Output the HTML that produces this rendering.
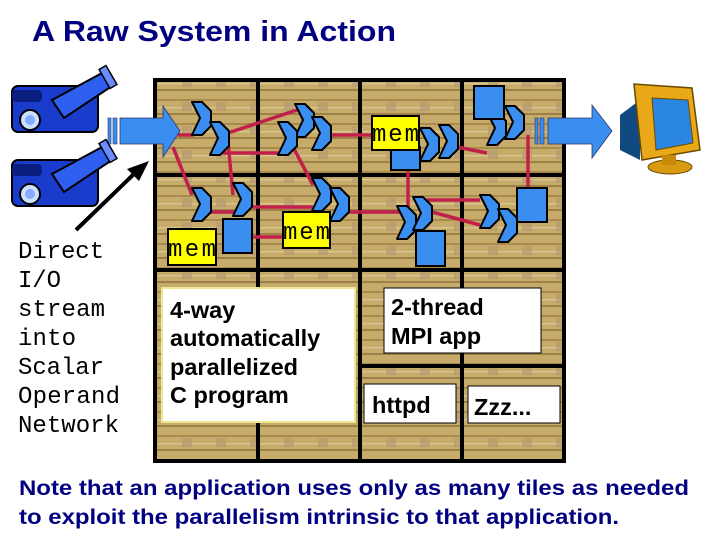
<!DOCTYPE html>
<html><head><meta charset="utf-8"><style>
html,body{margin:0;padding:0;background:#fff;}
svg{display:block;}
</style></head><body>
<svg width="720" height="540" viewBox="0 0 720 540" xmlns="http://www.w3.org/2000/svg">
<defs>
<pattern id="tile" width="34" height="24" patternUnits="userSpaceOnUse">
<rect width="34" height="24" fill="#c6ab6a"/>
<rect x="0" y="3" width="34" height="2" fill="#a88a4c"/>
<rect x="0" y="11" width="34" height="1.5" fill="#d8c690"/>
<rect x="0" y="17" width="34" height="2" fill="#9c8048"/>
<rect x="12" y="6" width="10" height="9" fill="#b89a70" opacity="0.7"/>
</pattern>
<g id="sw"><polygon points="0,0 10,0 19,9 19,24 10,33 0,33 8,16" fill="#3a8ef0" stroke="#000" stroke-width="2" stroke-linejoin="round"/></g>
</defs>
<text x="32" y="41" font-family="Liberation Sans, sans-serif" font-size="29" font-weight="bold" fill="#000080" textLength="364" lengthAdjust="spacingAndGlyphs">A Raw System in Action</text>

<rect x="153" y="78" width="413" height="385" fill="url(#tile)"/>
<g stroke="#000" stroke-width="4" fill="none">
<rect x="155" y="80" width="409" height="381"/>
<line x1="258" y1="78" x2="258" y2="463"/>
<line x1="360" y1="78" x2="360" y2="463"/>
<line x1="462" y1="78" x2="462" y2="463"/>
<line x1="153" y1="175" x2="566" y2="175"/>
<line x1="153" y1="270" x2="566" y2="270"/>
<line x1="360" y1="366" x2="566" y2="366"/>
</g>

<g stroke="#c0204a" stroke-width="3.5">
<line x1="178" y1="135" x2="194" y2="135"/>
<line x1="173" y1="147" x2="192" y2="195"/>
<line x1="228" y1="133" x2="297" y2="110"/>
<line x1="223" y1="153" x2="282" y2="153"/>
<line x1="228" y1="142" x2="233" y2="195"/>
<line x1="210" y1="212" x2="235" y2="212"/>
<line x1="253" y1="207" x2="313" y2="207"/>
<line x1="252" y1="237" x2="284" y2="237"/>
<line x1="293" y1="147" x2="313" y2="185"/>
<line x1="330" y1="135" x2="372" y2="135"/>
<line x1="343" y1="212" x2="400" y2="212"/>
<line x1="408" y1="170" x2="408" y2="207"/>
<line x1="427" y1="200" x2="480" y2="200"/>
<line x1="432" y1="212" x2="480" y2="225"/>
<line x1="457" y1="147" x2="487" y2="153"/>
<line x1="528" y1="135" x2="528" y2="188"/>
</g>

<rect x="108" y="118" width="3" height="26" fill="#3a8ef0" stroke="#336" stroke-width="0.6"/>
<rect x="113" y="118" width="4" height="26" fill="#3a8ef0" stroke="#336" stroke-width="0.6"/>
<polygon points="120,118 163,118 163,106 180,131 163,157 163,144 120,144" fill="#3a8ef0" stroke="#336" stroke-width="0.8"/>
<rect x="535" y="118" width="3" height="26" fill="#3a8ef0" stroke="#336" stroke-width="0.6"/>
<rect x="540" y="118" width="4" height="26" fill="#3a8ef0" stroke="#336" stroke-width="0.6"/>
<polygon points="548,118 592,118 592,105 612,131 592,158 592,144 548,144" fill="#3a8ef0" stroke="#336" stroke-width="0.8"/>

<use href="#sw" x="192" y="102"/>
<use href="#sw" x="210" y="122"/>
<use href="#sw" x="295" y="104"/>
<use href="#sw" x="278" y="122"/>
<use href="#sw" x="312" y="117"/>
<use href="#sw" x="420" y="128"/>
<use href="#sw" x="439" y="125"/>
<use href="#sw" x="487" y="112"/>
<use href="#sw" x="505" y="106"/>
<use href="#sw" x="192" y="188"/>
<use href="#sw" x="233" y="183"/>
<use href="#sw" x="312" y="178"/>
<use href="#sw" x="330" y="188"/>
<use href="#sw" x="397" y="206"/>
<use href="#sw" x="413" y="197"/>
<use href="#sw" x="480" y="195"/>
<use href="#sw" x="498" y="209"/>

<g fill="#3a8ef0" stroke="#000" stroke-width="2">
<rect x="474" y="86" width="30" height="33"/>
<rect x="391" y="147" width="29" height="23"/>
<rect x="223" y="219" width="29" height="34"/>
<rect x="416" y="231" width="29" height="35"/>
<rect x="517" y="188" width="30" height="34"/>
</g>

<g fill="#ffff00" stroke="#000" stroke-width="2">
<rect x="372" y="116" width="47" height="34"/>
<rect x="168" y="229" width="48" height="36"/>
<rect x="283" y="212" width="47" height="36"/>
</g>
<g font-family="Liberation Mono, monospace" font-size="24" fill="#000" lengthAdjust="spacingAndGlyphs">
<text x="372" y="141" textLength="47">mem</text>
<text x="168" y="256" textLength="48">mem</text>
<text x="283" y="239" textLength="47">mem</text>
</g>

<rect x="162" y="288" width="193" height="134" fill="#fff" stroke="#f0e890" stroke-width="2"/>
<rect x="384" y="288" width="157" height="65" fill="#fff" stroke="#000" stroke-width="1"/>
<rect x="364" y="384" width="92" height="39" fill="#fff" stroke="#000" stroke-width="1"/>
<rect x="468" y="386" width="92" height="37" fill="#fff" stroke="#000" stroke-width="1"/>
<g font-family="Liberation Sans, sans-serif" font-size="23.5" font-weight="bold" fill="#000">
<text x="170" y="318">4-way</text>
<text x="170" y="346">automatically</text>
<text x="170" y="375">parallelized</text>
<text x="170" y="403">C program</text>
<text x="391" y="315">2-thread</text>
<text x="391" y="344">MPI app</text>
<text x="372" y="413">httpd</text>
<text x="474" y="415">Zzz...</text>
</g>

<g font-family="Liberation Mono, monospace" font-size="24" fill="#000" lengthAdjust="spacingAndGlyphs">
<text x="18" y="258" textLength="86">Direct</text>
<text x="18" y="287" textLength="43">I/O</text>
<text x="18" y="316" textLength="87">stream</text>
<text x="18" y="345" textLength="58">into</text>
<text x="18" y="374" textLength="86">Scalar</text>
<text x="18" y="403" textLength="102">Operand</text>
<text x="18" y="432" textLength="101">Network</text>
</g>

<line x1="76" y1="230" x2="136" y2="172" stroke="#000" stroke-width="4"/>
<polygon points="149,161 127,169 139,181" fill="#000"/>

<g>
<rect x="12" y="86" width="86" height="46" rx="6" fill="#1a3ccc" stroke="#000" stroke-width="2"/>
<polygon points="52,100 104,72 112,86 64,118" fill="#2f5ff0" stroke="#000" stroke-width="2"/>
<rect x="104" y="66" width="8" height="22" transform="rotate(-30 108 77)" fill="#6a8cff" stroke="#000" stroke-width="1.5"/>
<circle cx="30" cy="120" r="10" fill="#cce0ff" stroke="#000" stroke-width="2"/>
<circle cx="30" cy="120" r="5" fill="#88aaff"/>
<rect x="12" y="90" width="30" height="12" rx="4" fill="#0a1e80"/>
</g>
<g transform="translate(0,74)">
<rect x="12" y="86" width="86" height="46" rx="6" fill="#1a3ccc" stroke="#000" stroke-width="2"/>
<polygon points="52,100 104,72 112,86 64,118" fill="#2f5ff0" stroke="#000" stroke-width="2"/>
<rect x="104" y="66" width="8" height="22" transform="rotate(-30 108 77)" fill="#6a8cff" stroke="#000" stroke-width="1.5"/>
<circle cx="30" cy="120" r="10" fill="#cce0ff" stroke="#000" stroke-width="2"/>
<circle cx="30" cy="120" r="5" fill="#88aaff"/>
<rect x="12" y="90" width="30" height="12" rx="4" fill="#0a1e80"/>
</g>

<polygon points="620,115 640,100 640,160 620,150" fill="#104a80"/>
<polygon points="634,84 692,88 700,150 642,160" fill="#e8a818" stroke="#6a4a00" stroke-width="1.5"/>
<polygon points="652,98 688,100 693,143 656,150" fill="#2a86e0" stroke="#6a4a00" stroke-width="1"/>
<ellipse cx="670" cy="167" rx="22" ry="7" fill="#d89a10" stroke="#6a4a00" stroke-width="1"/>
<rect x="662" y="155" width="14" height="10" fill="#c88a08"/>

<g font-family="Liberation Sans, sans-serif" font-size="21" font-weight="bold" fill="#000080">
<text x="19" y="495" textLength="670" lengthAdjust="spacingAndGlyphs">Note that an application uses only as many tiles as needed</text>
<text x="19" y="524" textLength="600" lengthAdjust="spacingAndGlyphs">to exploit the parallelism intrinsic to that application.</text>
</g>
</svg>
</body></html>
